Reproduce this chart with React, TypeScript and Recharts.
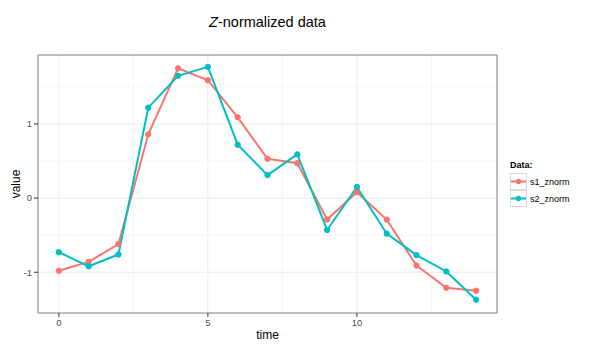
import React from "react";
import {
  LineChart,
  Line,
  XAxis,
  YAxis,
  CartesianGrid,
  ReferenceArea,
  Label,
} from "recharts";

const times = [0, 1, 2, 3, 4, 5, 6, 7, 8, 9, 10, 11, 12, 13, 14];
const s1Znorm = [-0.98, -0.86, -0.62, 0.86, 1.75, 1.59, 1.09, 0.53, 0.47, -0.29, 0.08, -0.29, -0.91, -1.21, -1.25];
const s2Znorm = [-0.73, -0.92, -0.76, 1.22, 1.65, 1.77, 0.72, 0.31, 0.59, -0.43, 0.15, -0.48, -0.77, -0.99, -1.37];
const xTicks = [0, 5, 10];
const yTicks = [-1, 0, 1];
const xMinor = [2.5, 7.5, 12.5];
const yMinor = [-0.5, 0.5, 1.5];

const RED = "#F8766D";
const TEAL = "#00BFC4";
const FONT = "'Liberation Sans', Arial, sans-serif";

const data = times.map((t, i) => ({ time: t, s1_znorm: s1Znorm[i], s2_znorm: s2Znorm[i] }));

const X_DOMAIN: [number, number] = [-0.7, 14.7];
const Y_DOMAIN: [number, number] = [-1.55, 1.93];

function LegendKey({ color }: { color: string }) {
  return (
    <svg width={17} height={17} style={{ display: "block" }}>
      <rect x={0.5} y={0.5} width={16} height={16} fill="#fff" stroke="#d9d9d9" />
      <line x1={1} y1={8.5} x2={16} y2={8.5} stroke={color} strokeWidth={2} />
      <circle cx={8.5} cy={8.5} r={2.7} fill={color} />
    </svg>
  );
}

export default function App() {
  const tick = { fill: "#4d4d4d", fontSize: 9.5, fontFamily: FONT };
  return (
    <div style={{ position: "absolute", left: 0, top: 0, width: 600, height: 350, background: "#fff", fontFamily: FONT }}>
      <div
        style={{
          position: "absolute",
          left: 38,
          width: 459,
          top: 14,
          textAlign: "center",
          fontSize: 14.5,
          color: "#000",
        }}
      >
        <i>Z</i>-normalized data
      </div>
      <LineChart width={600} height={350} data={data} margin={{ top: 55, right: 103, left: 0, bottom: 0 }}>
        <CartesianGrid
          stroke="#f6f6f6"
          horizontalValues={yMinor}
          verticalValues={xMinor}
        />
        <CartesianGrid
          stroke="#ebebeb"
          horizontalValues={yTicks}
          verticalValues={xTicks}
        />
        <XAxis
          dataKey="time"
          type="number"
          domain={X_DOMAIN}
          ticks={xTicks}
          allowDataOverflow
          height={37}
          tickSize={4}
          tickLine={{ stroke: "#333" }}
          axisLine={false}
          tick={tick}
        >
          <Label value="time" position="insideBottom" offset={11} style={{ fontSize: 12, fill: "#000", fontFamily: FONT }} />
        </XAxis>
        <YAxis
          type="number"
          domain={Y_DOMAIN}
          ticks={yTicks}
          allowDataOverflow
          width={38}
          tickSize={4}
          tickLine={{ stroke: "#333" }}
          axisLine={false}
          tick={tick}
        >
          <Label value="value" angle={-90} position="insideLeft" offset={16} style={{ fontSize: 12, fill: "#000", fontFamily: FONT, textAnchor: "middle" }} />
        </YAxis>
        <ReferenceArea
          x1={X_DOMAIN[0]}
          x2={X_DOMAIN[1]}
          y1={Y_DOMAIN[0]}
          y2={Y_DOMAIN[1]}
          fill="none"
          stroke="#7f7f7f"
          strokeWidth={1}
          ifOverflow="visible"
        />
        <Line
          dataKey="s1_znorm"
          stroke={RED}
          strokeWidth={2}
          dot={{ r: 2.7, fill: RED, stroke: RED, strokeWidth: 1 }}
          isAnimationActive={false}
        />
        <Line
          dataKey="s2_znorm"
          stroke={TEAL}
          strokeWidth={2}
          dot={{ r: 2.7, fill: TEAL, stroke: TEAL, strokeWidth: 1 }}
          isAnimationActive={false}
        />
      </LineChart>
      <div style={{ position: "absolute", left: 510, top: 160, fontSize: 9, color: "#000" }}>
        <div style={{ fontWeight: "bold", marginBottom: 3 }}>Data:</div>
        {[
          { name: "s1_znorm", color: RED },
          { name: "s2_znorm", color: TEAL },
        ].map((s) => (
          <div key={s.name} style={{ display: "flex", alignItems: "center", height: 17 }}>
            <LegendKey color={s.color} />
            <span style={{ marginLeft: 3 }}>{s.name}</span>
          </div>
        ))}
      </div>
    </div>
  );
}
